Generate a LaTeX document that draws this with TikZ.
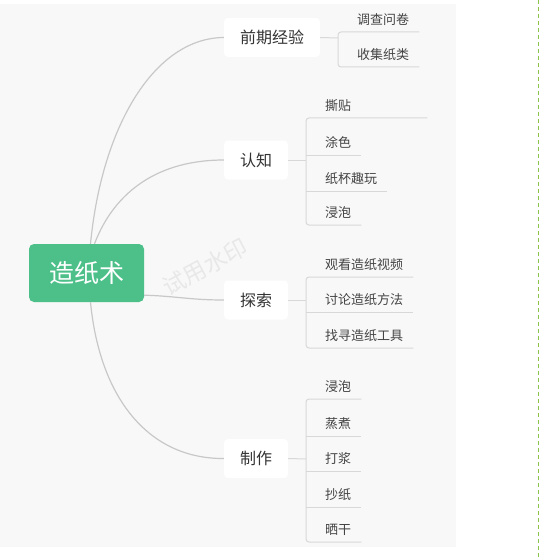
\documentclass[tikz,border=0pt]{standalone}
\usepackage{fontspec}
\setmainfont{Noto Sans CJK SC}
\usetikzlibrary{positioning}

\definecolor{bgfill}{RGB}{248,248,248}
\definecolor{rootgreen}{RGB}{77,192,138}
\definecolor{linkgray}{RGB}{200,200,200}
\definecolor{linegray}{RGB}{216,216,216}
\definecolor{txtdark}{RGB}{51,51,51}
\definecolor{txtleaf}{RGB}{68,68,68}
\definecolor{markgray}{RGB}{232,232,232}
\definecolor{edgegreen}{RGB}{140,195,74}

\begin{document}
\begin{tikzpicture}[x=1pt, y=-1pt,
    root/.style={fill=rootgreen, rounded corners=5pt, minimum width=115pt, minimum height=58pt, text=white, font=\fontsize{25pt}{25pt}\selectfont},
    topic/.style={fill=white, rounded corners=4pt, minimum height=39pt, inner xsep=16pt, text=txtdark, font=\fontsize{16pt}{16pt}\selectfont},
    leaf/.style={anchor=south west, inner xsep=0pt, inner ysep=4pt, text height=11pt, text depth=3pt, align=left, text=txtleaf, font=\fontsize{13pt}{13pt}\selectfont},
    link/.style={draw=linkgray, line width=1.2pt},
    uline/.style={draw=linegray, line width=1pt}
]
\useasboundingbox (0,0) rectangle (541,559);
\fill[bgfill] (0,4) rectangle (456,547);
\draw[edgegreen, line width=1pt, dash pattern=on 4pt off 3pt] (538,0) -- (538,559);

% watermark
\node[text=markgray, rotate=28, font=\fontsize{23pt}{23pt}\selectfont] (mark) at (205,267) {试用水印};

% root and main branches
\node[root] (zaozhi) at (86.5,273) {造纸术};
\node[topic] (jy) at (272,37.5) {前期经验};
\node[topic] (rz) at (256,160) {认知};
\node[topic] (ts) at (256,300) {探索};
\node[topic] (zz) at (256,458.5) {制作};

\draw[link] ([xshift=4pt]zaozhi.north) .. controls (102,125) and (155,38) .. (jy.west);
\draw[link] ([xshift=8pt]zaozhi.north) .. controls (115,190) and (160,160) .. (rz.west);
\draw[link] ([yshift=7pt]zaozhi.south east) .. controls (175,296) and (190,300) .. (ts.west);
\draw[link] ([xshift=4pt]zaozhi.south) .. controls (100,400) and (150,459) .. (zz.west);

% 前期经验
\coordinate (jyb) at (338,38);
\node[leaf, text width=62pt] (diaocha) at (357,32) {调查问卷};
\node[leaf, text width=62pt] (shouji) at (357,67) {收集纸类};
\draw[uline] (jy.east) -- (jyb);
\draw[uline, rounded corners=3pt] (diaocha.south east) -- (jyb |- diaocha.south) -- (jyb |- shouji.south) -- (shouji.south east);

% 认知
\coordinate (rzb) at (306,160);
\node[leaf, text width=102pt] (sitie) at (325,118) {撕贴};
\node[leaf, text width=36pt] (tuse) at (325,155) {涂色};
\node[leaf, text width=62pt] (zhibei) at (325,191) {纸杯趣玩};
\node[leaf, text width=36pt] (jinpao) at (325,225) {浸泡};
\draw[uline] (rz.east) -- (rzb);
\draw[uline, rounded corners=3pt] (sitie.south east) -- (rzb |- sitie.south) -- (rzb |- jinpao.south) -- (jinpao.south east);
\foreach \n in {tuse, zhibei}
    \draw[uline] (rzb |- \n.south) -- (\n.south east);

% 探索
\coordinate (tsb) at (306,300);
\node[leaf, text width=88pt] (guankan) at (325,277) {观看造纸视频};
\node[leaf, text width=88pt] (taolun) at (325,312) {讨论造纸方法};
\node[leaf, text width=88pt] (zhaoxun) at (325,348) {找寻造纸工具};
\draw[uline] (ts.east) -- (tsb);
\draw[uline, rounded corners=3pt] (guankan.south east) -- (tsb |- guankan.south) -- (tsb |- zhaoxun.south) -- (zhaoxun.south east);
\draw[uline] (tsb |- taolun.south) -- (taolun.south east);

% 制作
\coordinate (zzb) at (306,459);
\node[leaf, text width=36pt] (jinpaob) at (325,399) {浸泡};
\node[leaf, text width=36pt] (zhengzhu) at (325,436) {蒸煮};
\node[leaf, text width=36pt] (dajiang) at (325,471) {打浆};
\node[leaf, text width=36pt] (chaozhi) at (325,507) {抄纸};
\node[leaf, text width=36pt] (shaigan) at (325,542) {晒干};
\draw[uline] (zz.east) -- (zzb);
\draw[uline, rounded corners=3pt] (jinpaob.south east) -- (zzb |- jinpaob.south) -- (zzb |- shaigan.south) -- (shaigan.south east);
\foreach \n in {zhengzhu, dajiang, chaozhi}
    \draw[uline] (zzb |- \n.south) -- (\n.south east);
\end{tikzpicture}
\end{document}
